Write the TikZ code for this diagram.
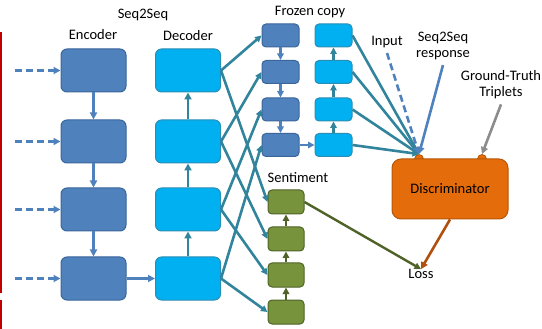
\documentclass[tikz,border=0pt]{standalone}
\usepackage{fontspec}
\setmainfont{Carlito}
\usetikzlibrary{arrows.meta}
\definecolor{encfill}{HTML}{4F81BD}
\definecolor{encdraw}{HTML}{3A669A}
\definecolor{decfill}{HTML}{00B0F0}
\definecolor{decdraw}{HTML}{2A8DB5}
\definecolor{tealc}{HTML}{31849B}
\definecolor{grnfill}{HTML}{77933C}
\definecolor{grndraw}{HTML}{4F6228}
\definecolor{orgfill}{HTML}{E46C0A}
\definecolor{orgdraw}{HTML}{B65708}
\definecolor{brownc}{HTML}{B0500E}
\definecolor{redc}{HTML}{C00000}
\definecolor{grayc}{HTML}{8C8C8C}
\tikzset{
  txt/.style={font=\fontsize{14.5}{16}\selectfont, inner sep=0pt, align=center},
  big/.style={rounded corners=6pt, line width=1pt, minimum width=65pt, minimum height=43pt, inner sep=0pt},
  encbox/.style={big, fill=encfill, draw=encdraw},
  decbox/.style={big, fill=decfill, draw=decdraw},
  small/.style={rounded corners=4pt, line width=1pt, minimum width=37pt, minimum height=23pt, inner sep=0pt},
  fdbox/.style={small, fill=encfill, draw=encdraw},
  flbox/.style={small, fill=decfill, draw=decdraw},
  sbox/.style={small, minimum width=36pt, minimum height=24pt, fill=grnfill, draw=grndraw},
  tip/.style={-{Triangle[length=7pt,width=7pt]}},
  smalltip/.style={-{Triangle[length=6.5pt,width=6.5pt]}},
  encarr/.style={tip, draw=encfill, line width=2.6pt},
  decarr/.style={tip, draw=tealc, line width=2.6pt},
  tealarr/.style={smalltip, draw=tealc, line width=2.6pt},
  grnarr/.style={smalltip, draw=grndraw, line width=2.4pt},
  dasharr/.style={tip, draw=encfill, line width=2.6pt, dash pattern=on 7pt off 4pt},
  bump/.style={circle, fill=orgfill, draw=orgdraw, line width=0.8pt, minimum size=9pt, inner sep=0pt},
}
\begin{document}
\begin{tikzpicture}[x=1pt,y=-1pt]
\useasboundingbox (0,0) rectangle (542,329);
% red rule at left
\draw[redc, line width=1.5pt] (0.75,32) -- (0.75,293);
\draw[redc, line width=1.5pt] (0.75,300) -- (0.75,329);
% labels
\node[txt] (lseq) at (143,15) {Seq2Seq};
\node[txt] (lenc) at (93,35) {Encoder};
\node[txt] (ldec) at (188,36) {Decoder};
\node[txt] (lfroz) at (310,12) {Frozen copy};
\node[txt] (lsent) at (298,178) {Sentiment};
\node[txt] (linput) at (387,42) {Input};
\node[txt] (lresp) at (443,46) {Seq2Seq\\response};
\node[txt] (lgt) at (501,85) {Ground-Truth\\Triplets};
\node[txt] (loss) at (421,274) {Loss};
% encoder / decoder
\foreach \i/\y in {1/70.5,2/141.5,3/209.5,4/278.5}{
  \node[encbox] (enc\i) at (93.5,\y) {};
  \node[decbox] (dec\i) at (188,\y) {};
  \coordinate (in\i) at (15,\y);
  \draw[dasharr] (in\i) -- (enc\i.west);
}
\foreach \a/\b in {1/2,2/3,3/4}{
  \draw[encarr] (enc\a.south) -- (enc\b.north);
  \draw[decarr] (dec\b.north) -- (dec\a.south);
}
\draw[encarr] (enc4.east) -- (dec4.west);
% frozen copy
\foreach \i/\y in {1/35.5,2/72,3/109.5,4/145}{
  \node[fdbox] (fd\i) at (280.5,\y) {};
  \node[flbox] (fl\i) at (333.5,\y) {};
}
\foreach \a/\b in {1/2,2/3,3/4}{
  \draw[encarr, smalltip] (fd\a.south) -- (fd\b.north);
  \draw[tealarr] (fl\b.north) -- (fl\a.south);
}
\draw[encarr, smalltip] (fd4.east) -- (fl4.west);
% sentiment
\foreach \i/\y in {1/202,2/239,3/275,4/312}{
  \node[sbox] (s\i) at (286,\y) {};
}
\foreach \a/\b in {1/2,2/3,3/4}{
  \draw[grnarr] (s\b.north) -- (s\a.south);
}
% discriminator
\node[bump] (bump1) at (419,159) {};
\node[bump] (bump2) at (482,159) {};
\node[rounded corners=9pt, fill=orgfill, draw=orgdraw, line width=1pt, minimum width=116pt, minimum height=60pt, txt] (disc) at (450,189) {Discriminator};
% decoder to frozen and sentiment
\foreach \i in {1,2,3,4}{
  \draw[tealarr] (dec\i.east) -- (fd\i.west);
  \draw[tealarr] (dec\i.east) -- (s\i.west);
  \draw[tealarr] (fl\i.east) -- (bump1.north);
}
\draw[dasharr] (linput.south) ++(0,5) -- (bump1.north);
\draw[encarr] (lresp.south) ++(0,5) -- (bump1.north);
\draw[tip, draw=grayc, line width=2.6pt] (lgt.south) ++(0,5) -- (bump2.north);
\draw[grnarr] (s1.east) -- (loss.north);
\draw[tip, draw=brownc, line width=2.6pt] (disc.south) -- (loss.north);
\end{tikzpicture}
\end{document}
